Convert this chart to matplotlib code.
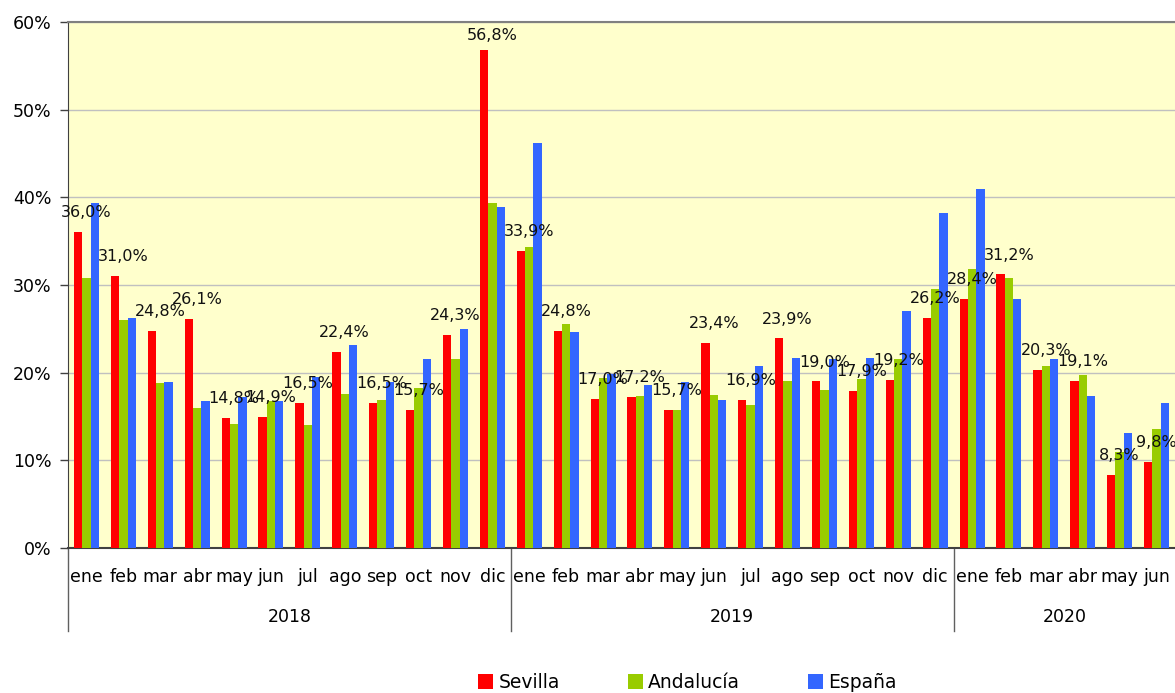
import numpy as np
import matplotlib.pyplot as plt
from matplotlib.transforms import blended_transform_factory

# Datos (% mensual)
meses = ['ene', 'feb', 'mar', 'abr', 'may', 'jun', 'jul', 'ago', 'sep', 'oct', 'nov', 'dic'] * 2 + \
        ['ene', 'feb', 'mar', 'abr', 'may', 'jun']
anios = ['2018', '2019', '2020']
meses_por_anio = [12, 12, 6]

sevilla = [36.0, 31.0, 24.8, 26.1, 14.8, 14.9, 16.5, 22.4, 16.5, 15.7, 24.3, 56.8,
           33.9, 24.8, 17.0, 17.2, 15.7, 23.4, 16.9, 23.9, 19.0, 17.9, 19.2, 26.2,
           28.4, 31.2, 20.3, 19.1, 8.3, 9.8]
andalucia = [30.8, 26.0, 18.8, 16.0, 14.2, 16.8, 14.0, 17.6, 16.9, 18.3, 21.6, 39.3,
             34.3, 25.6, 19.4, 17.3, 15.7, 17.5, 16.3, 19.0, 18.0, 19.3, 21.6, 29.5,
             31.8, 30.8, 20.8, 19.7, 10.9, 13.6]
espana = [39.4, 26.2, 18.9, 16.8, 17.2, 16.8, 19.5, 23.1, 18.9, 21.6, 25.0, 38.9,
          46.2, 24.6, 19.8, 18.6, 18.9, 16.9, 20.8, 21.7, 21.6, 21.7, 27.0, 38.2,
          41.0, 28.4, 21.6, 17.3, 13.1, 16.5]

rojo = '#FF0000'
verde = '#99CC00'
azul = '#3366FF'

fig = plt.figure(figsize=(11.75, 6.93), dpi=100)
ax = fig.add_axes([68 / 1175, 1 - 548 / 693, 1 - 68 / 1175, (548 - 22) / 693])
ax.set_facecolor('#FFFFCC')

x = np.arange(len(meses))
w = 0.226
ax.bar(x - w, sevilla, w, color=rojo, label='Sevilla', zorder=3)
ax.bar(x, andalucia, w, color=verde, label='Andalucía', zorder=3)
ax.bar(x + w, espana, w, color=azul, label='España', zorder=3)

# etiquetas de Sevilla
for xi, v in zip(x, sevilla):
    yl = min(v + 1.7, 57.9)
    ax.text(xi, yl, f'{v:.1f}%'.replace('.', ','), ha='center', va='baseline',
            fontsize=11.5, color='#111111', zorder=5)

ax.set_xlim(-0.5, len(meses) - 0.5)
ax.set_ylim(0, 60)
ax.set_yticks(np.arange(0, 61, 10))
ax.set_yticklabels([f'{t}%' for t in range(0, 61, 10)], fontsize=12.5)
ax.yaxis.grid(True, color='#C0C0C0', linewidth=1.0, zorder=0)
ax.tick_params(axis='y', length=6, width=1, color='#404040', pad=6)
ax.set_xticks([])

ax.spines['right'].set_visible(False)
ax.spines['top'].set_color('#808080')
ax.spines['top'].set_linewidth(1.5)
ax.spines['left'].set_color('#404040')
ax.spines['bottom'].set_color('#404040')
ax.spines['bottom'].set_linewidth(1.5)

trans = blended_transform_factory(ax.transData, ax.transAxes)
for xi, m in zip(x, meses):
    ax.text(xi, -0.055, m, transform=trans, ha='center', va='center', fontsize=12.5)

inicio = 0
for anio, n in zip(anios, meses_por_anio):
    ax.text(inicio + n / 2 - 0.5, -0.131, anio, transform=trans, ha='center',
            va='center', fontsize=12.5)
    ax.plot([inicio - 0.5, inicio - 0.5], [0, -0.158], transform=trans,
            color='#606060', linewidth=1, clip_on=False)
    inicio += n

fig.legend(loc='center', bbox_to_anchor=(0.585, 0.015), ncol=3, frameon=False,
           fontsize=13.5, handlelength=0.8, handleheight=0.8, handletextpad=0.3,
           columnspacing=3.6)

fig.savefig('out.png', dpi=100)
